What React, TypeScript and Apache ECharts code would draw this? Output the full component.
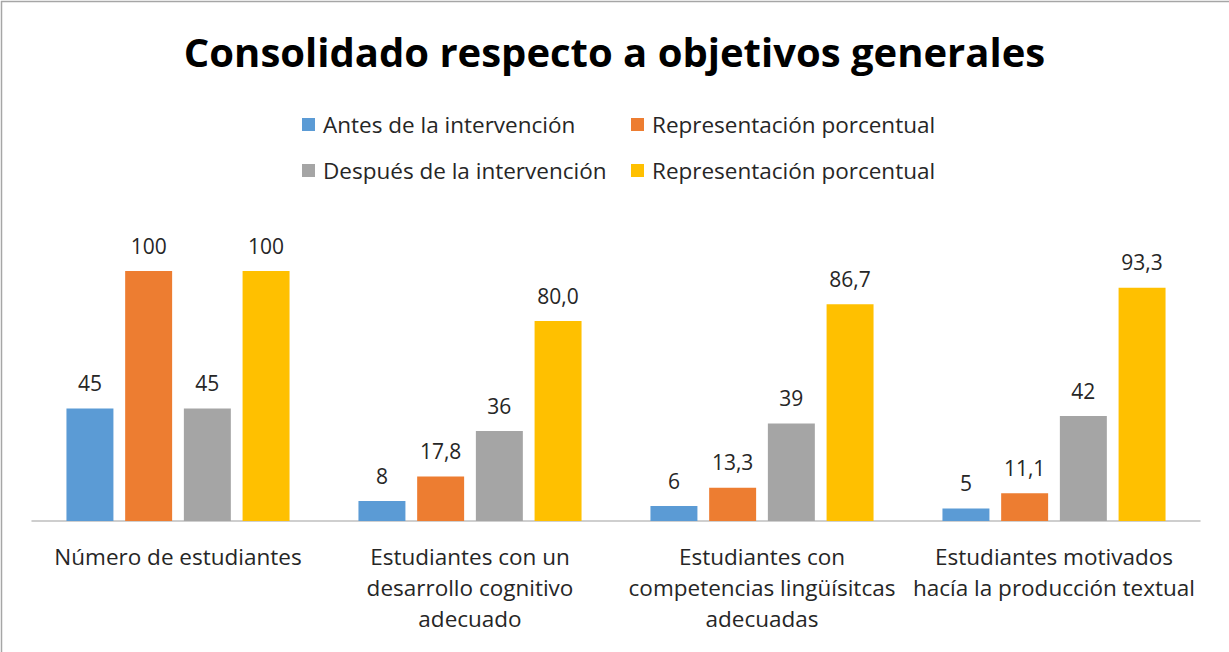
import React, { useEffect, useRef } from "react";
import * as echarts from "echarts";

const categories = [
  "Número de estudiantes",
  "Estudiantes con un\ndesarrollo cognitivo\nadecuado",
  "Estudiantes con\ncompetencias lingüísitcas\nadecuadas",
  "Estudiantes motivados\nhacía la producción textual",
];
const antes = [45, 8, 6, 5];
const antesPct = [100, 17.8, 13.3, 11.1];
const despues = [45, 36, 39, 42];
const despuesPct = [100, 80.0, 86.7, 93.3];
const seriesNames = [
  "Antes de la intervención",
  "Representación porcentual",
  "Después de la intervención",
  "Representación porcentual",
];
const colors = ["#5B9BD5", "#ED7D31", "#A5A5A5", "#FFC000"];
const titleText = "Consolidado respecto a objetivos generales";

const FONT = "Open Sans";

const fmtCount = (v: number) => String(v);
const fmtPct = (v: number) => (v === 100 ? "100" : v.toFixed(1).replace(".", ","));

export default function App() {
  const ref = useRef<HTMLDivElement>(null);
  useEffect(() => {
    if (!ref.current) return;
    const chart = echarts.init(ref.current, undefined, { renderer: "svg" });
    const datasets = [antes, antesPct, despues, despuesPct];
    const fmts = [fmtCount, fmtPct, fmtCount, fmtPct];
    const legendPos = [
      { left: 302, top: 113 },
      { left: 631, top: 113 },
      { left: 302, top: 159 },
      { left: 631, top: 159 },
    ];
    chart.setOption({
      animation: false,
      backgroundColor: "#ffffff",
      textStyle: { fontFamily: FONT },
      title: {
        text: titleText,
        left: "center",
        top: 26,
        textStyle: { fontFamily: FONT, fontSize: 40, fontWeight: "bold", color: "#000" },
      },
      legend: legendPos.map((p, i) => ({
        left: p.left,
        top: p.top,
        padding: 0,
        icon: "rect",
        itemWidth: 13,
        itemHeight: 13,
        selectedMode: false,
        textStyle: { fontFamily: FONT, fontSize: 22.5, color: "#262626", padding: [0, 0, 0, 3] },
        data: [{ name: seriesNames[i], itemStyle: { color: colors[i] } }],
      })),
      grid: { left: 32, right: 29, top: 271, bottom: 131 },
      xAxis: {
        type: "category",
        data: categories,
        axisLine: { lineStyle: { color: "#BFBFBF", width: 1.5 } },
        axisTick: { show: false },
        axisLabel: {
          interval: 0,
          fontFamily: FONT,
          fontSize: 22.5,
          lineHeight: 31,
          color: "#262626",
          margin: 20,
        },
      },
      yAxis: { type: "value", min: 0, max: 100, show: false, splitLine: { show: false } },
      series: datasets.map((d, i) => ({
        type: "bar",
        name: seriesNames[i],
        data: d,
        barCategoryGap: "23.6%",
        barGap: "25%",
        itemStyle: { color: colors[i] },
        label: {
          show: true,
          position: "top",
          distance: 15,
          fontFamily: FONT,
          fontSize: 21,
          color: "#262626",
          formatter: (p: any) => fmts[i](p.value),
        },
      })),
      graphic: [
        {
          type: "rect",
          shape: { x: 1.5, y: 1.5, width: 1260, height: 700 },
          style: { fill: "none", stroke: "#A6A6A6", lineWidth: 1.5 },
          silent: true,
        },
      ],
    });
    return () => chart.dispose();
  }, []);
  return (
    <div
      ref={ref}
      style={{ position: "absolute", left: 0, top: 0, width: 1229, height: 652 }}
    />
  );
}
